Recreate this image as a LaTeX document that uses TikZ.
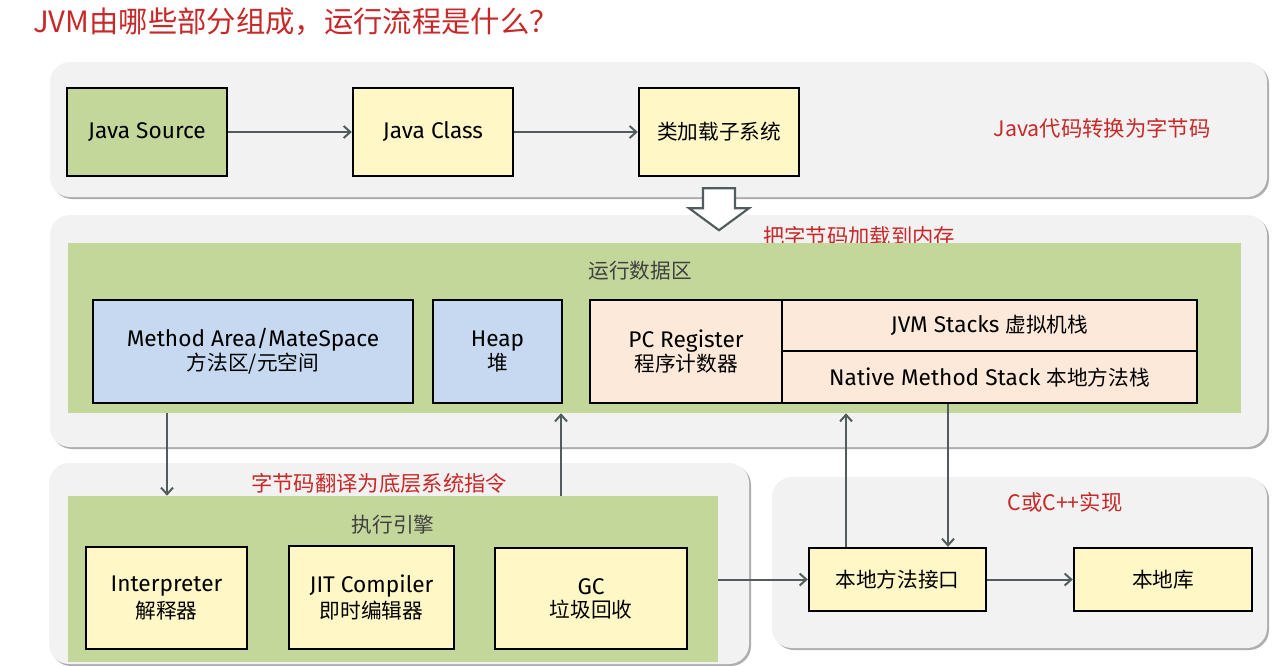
\documentclass[tikz,border=0pt]{standalone}
\usepackage{fontspec}
\setmainfont{Fira Sans}
\newfontfamily\cjk{Noto Sans CJK SC}
\usetikzlibrary{arrows.meta,shadows,calc}
\definecolor{panelbg}{HTML}{F2F2F2}
\definecolor{greenbg}{HTML}{C4D79B}
\definecolor{boxyellow}{HTML}{FFF8C6}
\definecolor{boxblue}{HTML}{C6D9F0}
\definecolor{boxpeach}{HTML}{FDE9D9}
\definecolor{arrowgray}{HTML}{525C5C}
\definecolor{redtxt}{HTML}{C82828}
\definecolor{labelgray}{HTML}{404040}
\newcommand{\pbox}[7]{\node[#6, minimum width={(#4-#2)*0.75pt}, minimum height={(#5-#3)*0.75pt}] (#1) at ({(#2+#4)/2},{(#3+#5)/2}) {#7};}
\newcommand{\lat}{\fontsize{17}{24}\selectfont}
\newcommand{\zh}{\cjk\fontsize{15.5}{24}\selectfont}
\tikzset{
  panel/.style={rectangle, rounded corners=15pt, fill=panelbg, inner sep=0pt,
    drop shadow={shadow xshift=1.5pt, shadow yshift=-1.5pt, fill=black!45, opacity=0.7}},
  area/.style={rectangle, fill=greenbg, inner sep=0pt},
  jbox/.style={rectangle, draw=black, line width=1.8pt, inner sep=0pt, align=center, text=black},
  ybox/.style={jbox, fill=boxyellow},
  gbox/.style={jbox, fill=greenbg},
  bbox/.style={jbox, fill=boxblue},
  pbx/.style={jbox, fill=boxpeach},
  conn/.style={draw=arrowgray, line width=1.5pt, -{Straight Barb[length=5pt,width=9pt]}},
  redlabel/.style={text=redtxt, font=\cjk\fontsize{16}{19}\selectfont, inner sep=0pt},
  graylabel/.style={text=labelgray, font=\cjk\fontsize{15.5}{19}\selectfont, inner sep=0pt},
  hollow/.style={draw=arrowgray, line width=1.6pt, fill=white, line join=miter}
}
\begin{document}
\begin{tikzpicture}[x=0.75pt,y=-0.75pt]
\useasboundingbox (0,0) rectangle (1280,665);
% title
\node[anchor=west, text=redtxt, font=\cjk\fontsize{22}{26}\selectfont, inner sep=0pt] (title) at (33,22) {JVM由哪些部分组成，运行流程是什么？};
% panels
\pbox{P1}{50}{62}{1267}{197}{panel}{}
\pbox{P2}{50}{215}{1267}{447}{panel}{}
\pbox{P3}{49}{463}{749}{664}{panel}{}
\pbox{P4}{772}{477}{1267}{648}{panel}{}
% row 1
\pbox{JS}{67}{88}{227}{176}{gbox}{\lat Java Source}
\pbox{JC}{353}{88}{513}{176}{ybox}{\lat Java Class}
\pbox{CL}{639}{88}{799}{176}{ybox}{\zh 类加载子系统}
\node[redlabel] (l1) at (1102,128) {Java代码转换为字节码};
\draw[conn] (JS.east) -- (JC.west);
\draw[conn] (JC.east) -- (CL.west);
% hollow arrow
\draw[hollow] ($(CL.south)+(-16,11)$) -- ($(CL.south)+(16,11)$) -- ($(CL.south)+(16,31)$) -- ($(CL.south)+(30,31)$) -- ($(CL.south)+(0,53)$) -- ($(CL.south)+(-30,31)$) -- ($(CL.south)+(-16,31)$) -- cycle;
% runtime data area
\node[redlabel] (l2) at (859,236) {把字节码加载到内存};
\pbox{RDA}{68}{243}{1241}{413}{area}{}
\node[graylabel] (rdal) at (640,271) {运行数据区};
\pbox{MA}{93}{300}{413}{403}{bbox}{\lat Method Area/MateSpace\\\zh 方法区/元空间}
\pbox{HP}{433}{300}{562}{403}{bbox}{\lat Heap\\\zh 堆}
\pbox{PC}{590}{300}{782}{403}{pbx}{\lat PC Register\\\zh 程序计数器}
\pbox{JVS}{782}{300}{1197}{351}{pbx}{\lat JVM Stacks {\zh 虚拟机栈}}
\pbox{NMS}{782}{351}{1197}{403}{pbx}{\lat Native Method Stack {\zh 本地方法栈}}
% execution engine
\node[redlabel] (l3) at (379,483) {字节码翻译为底层系统指令};
\pbox{EXE}{68}{496}{718}{662}{area}{}
\node[graylabel] (exel) at (393,525) {执行引擎};
\pbox{INT}{86}{547}{247}{649}{ybox}{\lat Interpreter\\[2pt]\zh 解释器}
\pbox{JIT}{289}{546}{454}{649}{ybox}{\lat JIT Compiler\\[2pt]\zh 即时编辑器}
\pbox{GC}{495}{548}{687}{649}{ybox}{\lat GC\\[3pt]\zh 垃圾回收}
% native
\node[redlabel] (l4) at (1065,502) {C或C++实现};
\pbox{NMI}{809}{548}{986}{611}{ybox}{\zh 本地方法接口}
\pbox{NL}{1074}{548}{1252}{611}{ybox}{\zh 本地库}
% connectors
\coordinate (xa) at (167,0);
\coordinate (xb) at (561,0);
\coordinate (xc) at (846,0);
\coordinate (xd) at (948,0);
\draw[conn] (RDA.south -| xa) -- (EXE.north -| xa);
\draw[conn] (EXE.north -| xb) -- (RDA.south -| xb);
\draw[conn] (NMI.north -| xc) -- (RDA.south -| xc);
\draw[conn] (NMS.south -| xd) -- (NMI.north -| xd);
\draw[conn] (NMI.west -| EXE.east) -- (NMI.west);
\draw[conn] (NMI.east) -- (NMI.east -| NL.west);
\end{tikzpicture}
\end{document}
